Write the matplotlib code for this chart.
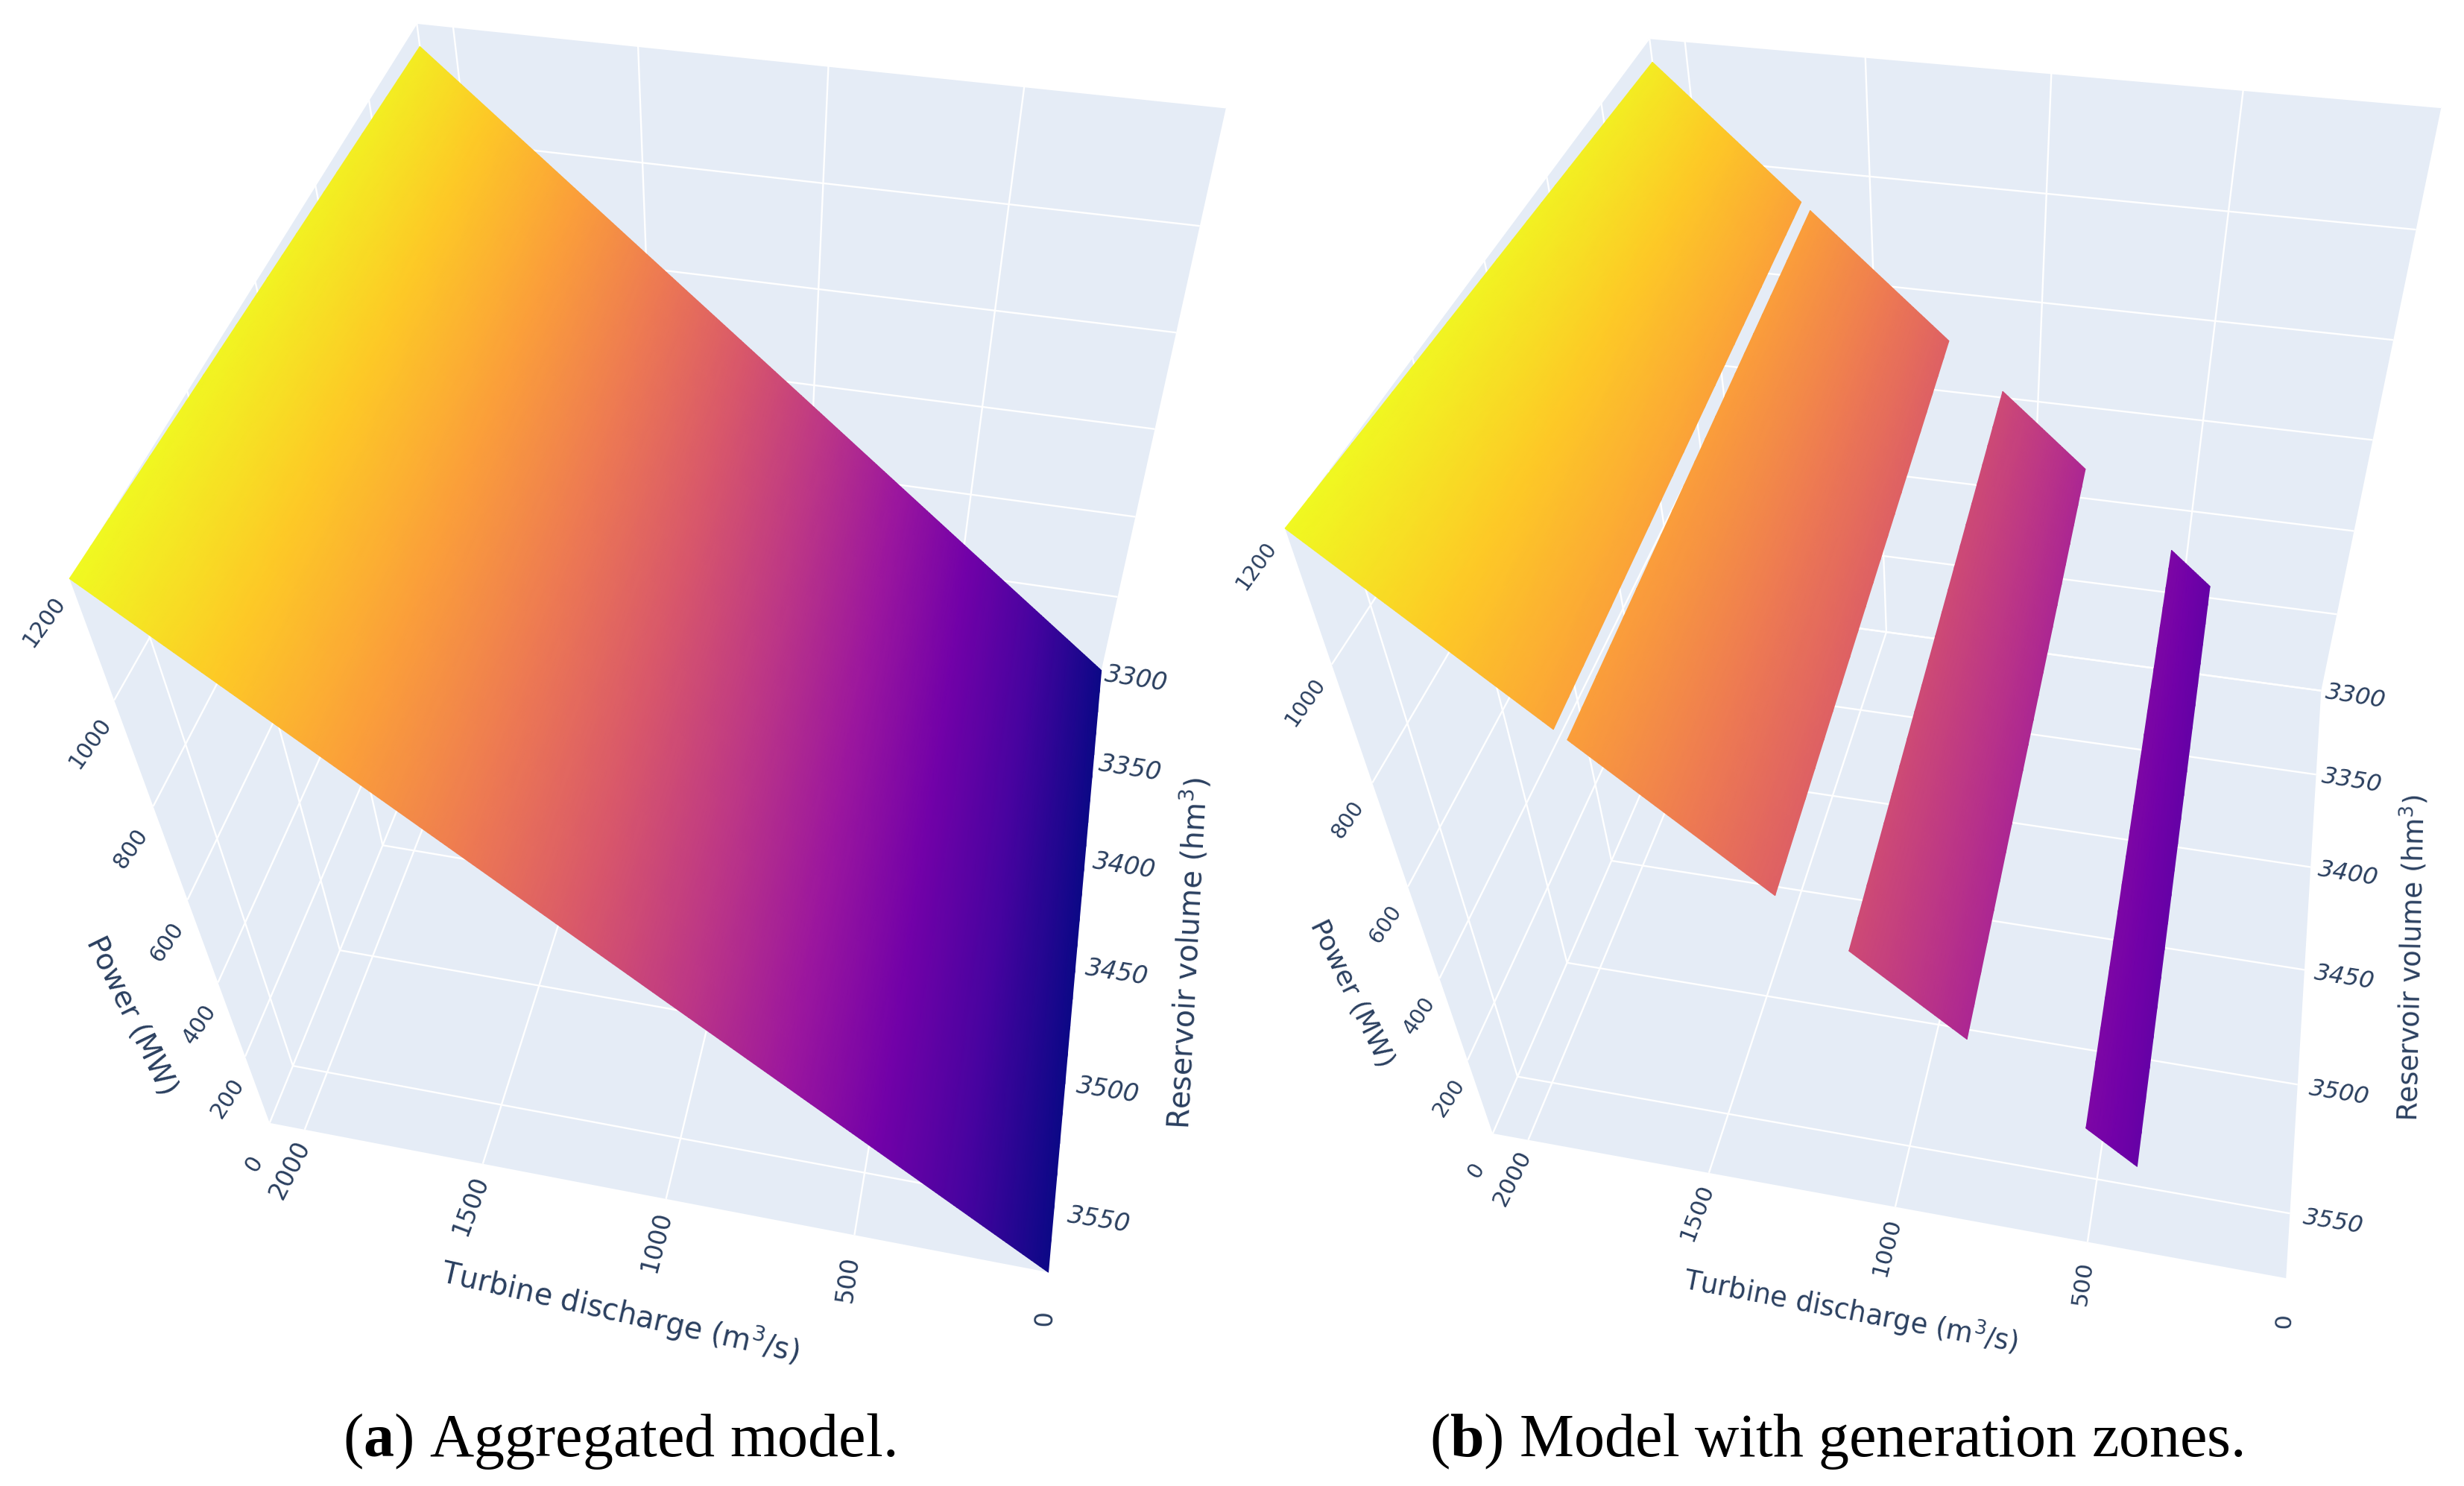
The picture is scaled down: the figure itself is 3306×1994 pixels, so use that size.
import numpy as np
import matplotlib
matplotlib.use("Agg")
import matplotlib.pyplot as plt
from matplotlib.colors import LinearSegmentedColormap

plt.rcParams['mathtext.fontset'] = 'custom'
plt.rcParams['mathtext.rm'] = 'Liberation Serif'
plt.rcParams['mathtext.bf'] = 'Liberation Serif:bold'
plt.rcParams['mathtext.default'] = 'regular'

# ---- data ----
Q_MAX, V_MIN, V_MAX, P_MAX = 2100, 3300, 3573, 1200
q_ticks = [2000, 1500, 1000, 500, 0]
v_ticks = [3300, 3350, 3400, 3450, 3500, 3550]
p_ticks = [1200, 1000, 800, 600, 400, 200, 0]
q_nodes = [0, 500, 1000, 1500, 2100]
p_at_vmin = [0, 276, 553, 829, 1161]
p_at_vmax = [0, 286, 571, 857, 1200]
# each range: q at reservoir minimum (low, high), q at reservoir maximum (low, high)
full_range = [((0, 2100), (0, 2100))]
zone_ranges = [((1704, 2100), (1654, 2100)),
               ((1275, 1679), (1231, 1629)),
               ((843, 1109), (816, 1077)),
               ((414, 550), (403, 532))]
plasma = ["#0d0887", "#46039f", "#7201a8", "#9c179e", "#bd3786",
          "#d8576b", "#ed7953", "#fb9f3a", "#fdca26", "#f0f921"]

# ---- camera calibration: (q, v, p) -> pixel, per panel ----
calib_a = [
    (2100, 3300, 1200, 559, 31), (0, 3300, 1200, 1645, 145), (2100, 3573, 1200, 94, 779),
    (2100, 3573, 0, 362, 1506), (0, 3573, 0, 1407, 1706), (0, 3300, 0, 1478, 899),
    (2000, 3573, 0, 408, 1517), (1500, 3573, 0, 647, 1562), (1000, 3573, 0, 893, 1610), (500, 3573, 0, 1147, 1658),
    (2000, 3300, 1200, 608, 35), (1500, 3300, 1200, 857, 62), (1000, 3300, 1200, 1111, 88), (500, 3300, 1200, 1374, 117),
    (0, 3300, 1000, 1611, 303), (0, 3300, 800, 1578, 445), (0, 3300, 600, 1550, 576), (0, 3300, 400, 1523, 693), (0, 3300, 200, 1498, 802),
    (2100, 3550, 0, 394, 1431), (2100, 3500, 0, 457, 1277), (2100, 3450, 0, 513, 1134),
    (2100, 3573, 1000, 152, 939), (2100, 3573, 800, 204, 1082), (2100, 3573, 600, 252, 1206), (2100, 3573, 400, 292, 1317), (2100, 3573, 200, 330, 1415),
]
calib_b = [
    (2100, 3300, 1200, 2213, 52), (0, 3300, 1200, 3275, 145), (2100, 3573, 1200, 1724, 713),
    (2100, 3573, 0, 2003, 1521), (0, 3573, 0, 3068, 1715), (0, 3300, 0, 3115, 926),
    (2000, 3573, 0, 2050, 1529), (1500, 3573, 0, 2293, 1575), (1000, 3573, 0, 2544, 1620), (500, 3573, 0, 2802, 1668),
    (2000, 3300, 1200, 2260, 54), (1500, 3300, 1200, 2503, 77), (1000, 3300, 1200, 2752, 99), (500, 3300, 1200, 3010, 121),
    (0, 3300, 1000, 3243, 307), (0, 3300, 800, 3212, 456), (0, 3300, 600, 3184, 590), (0, 3300, 400, 3159, 712), (0, 3300, 200, 3135, 825),
    (0, 3350, 0, 3107, 1039), (0, 3400, 0, 3099, 1164), (0, 3450, 0, 3090, 1301), (0, 3500, 0, 3081, 1455), (0, 3550, 0, 3073, 1628),
    (2100, 3550, 0, 2037, 1446), (2100, 3500, 0, 2103, 1293), (2100, 3450, 0, 2162, 1155),
    (2100, 3573, 1000, 1786, 890), (2100, 3573, 800, 1840, 1048), (2100, 3573, 600, 1889, 1188), (2100, 3573, 400, 1932, 1311), (2100, 3573, 200, 1969, 1422),
]


def norm(q, v, p):
    return q / Q_MAX, (v - V_MIN) / (V_MAX - V_MIN), p / P_MAX


def fit_camera(points):
    rows = []
    for q, v, p, x, y in points:
        a, b, c = norm(q, v, p)
        x, y = x / 1000, y / 1000
        rows.append([a, b, c, 1, 0, 0, 0, 0, -x * a, -x * b, -x * c, -x])
        rows.append([0, 0, 0, 0, a, b, c, 1, -y * a, -y * b, -y * c, -y])
    return np.linalg.svd(np.array(rows))[2][-1].reshape(3, 4)


def project(cam, q, v, p):
    a, b, c = norm(np.asarray(q, float), np.asarray(v, float), np.asarray(p, float))
    h = np.stack([a, b, c, np.ones_like(a + b + c)], axis=-1) @ cam.T
    return 1000 * h[..., 0] / h[..., 2], 1000 * h[..., 1] / h[..., 2]


fig = plt.figure(figsize=(33.06, 19.94), dpi=100, facecolor='white')
ax = fig.add_axes([0, 0, 1, 1])
ax.set_xlim(0, 3306)
ax.set_ylim(1994, 0)
ax.axis('off')
cmap = LinearSegmentedColormap.from_list('plotly_plasma', plasma, N=512)
WALL = '#E5ECF6'
GRID = 'white'
INK = '#2a3f5f'


def segment(cam, a, b):
    x, y = project(cam, *np.array([a, b]).T)
    ax.plot(x, y, color=GRID, lw=1.7, solid_capstyle='butt', zorder=2)


def wall(cam, corners):
    x, y = project(cam, *np.array(corners, float).T)
    ax.fill(x, y, color=WALL, lw=0, zorder=1)


def surface(cam, at_vmin, at_vmax):
    # fine rendering mesh over the read surface, so the colours stay smooth
    n = max(8, int((at_vmin[1] - at_vmin[0]) / 8))
    s = np.linspace(0, 1, n)
    t = np.linspace(0, 1, 24)
    q_low = at_vmin[0] + s * (at_vmin[1] - at_vmin[0])
    q_high = at_vmax[0] + s * (at_vmax[1] - at_vmax[0])
    Q = np.outer(1 - t, q_low) + np.outer(t, q_high)
    T = np.outer(t, np.ones(n))
    P = (1 - T) * np.interp(Q, q_nodes, p_at_vmin) + T * np.interp(Q, q_nodes, p_at_vmax)
    V = V_MIN + T * (V_MAX - V_MIN)
    X, Y = project(cam, Q, V, P)
    ax.pcolormesh(X, Y, P, cmap=cmap, vmin=0, vmax=P_MAX, shading='gouraud', zorder=3)


def lerp(a, b, f):
    return a + (b - a) * f


def panel(points, ranges, off, titles, caption):
    cam = fit_camera(points)
    wall(cam, [(0, V_MIN, 0), (Q_MAX, V_MIN, 0), (Q_MAX, V_MIN, P_MAX), (0, V_MIN, P_MAX)])
    wall(cam, [(Q_MAX, V_MIN, 0), (Q_MAX, V_MAX, 0), (Q_MAX, V_MAX, P_MAX), (Q_MAX, V_MIN, P_MAX)])
    wall(cam, [(0, V_MIN, 0), (Q_MAX, V_MIN, 0), (Q_MAX, V_MAX, 0), (0, V_MAX, 0)])
    for q in q_ticks[:-1]:
        segment(cam, (q, V_MIN, 0), (q, V_MIN, P_MAX))
        segment(cam, (q, V_MIN, 0), (q, V_MAX, 0))
    for p in p_ticks:
        segment(cam, (0, V_MIN, p), (Q_MAX, V_MIN, p))
        segment(cam, (Q_MAX, V_MIN, p), (Q_MAX, V_MAX, p))
    for v in v_ticks:
        segment(cam, (0, v, 0), (Q_MAX, v, 0))
        segment(cam, (Q_MAX, v, 0), (Q_MAX, v, P_MAX))
    for at_vmin, at_vmax in ranges:
        surface(cam, at_vmin, at_vmax)

    for i, p in enumerate(p_ticks):
        f = i / (len(p_ticks) - 1)
        x, y = project(cam, Q_MAX, V_MAX, p)
        ax.text(x + lerp(off['p'][0], off['p'][2], f), y + lerp(off['p'][1], off['p'][3], f), str(p),
                rotation=lerp(54, 57, f), rotation_mode='anchor', ha='center', va='center',
                fontsize=off['size'] - 2, color=INK, zorder=5)
    for i, q in enumerate(q_ticks):
        f = i / (len(q_ticks) - 1)
        x, y = project(cam, q, V_MAX, 0)
        ax.text(x + lerp(off['q'][0], off['q'][2], f), y + lerp(off['q'][1], off['q'][3], f), str(q),
                rotation=lerp(63, 88, f), rotation_mode='anchor', ha='center', va='center',
                fontsize=off['size'], color=INK, zorder=5)
    for i, v in enumerate(v_ticks):
        f = i / (len(v_ticks) - 1)
        x, y = project(cam, 0, v, 0)
        ax.text(x + lerp(off['v'][0], off['v'][2], f), y + lerp(off['v'][1], off['v'][3], f), str(v),
                rotation=-9, rotation_mode='anchor', ha='center', va='center', style='oblique',
                fontsize=off['size'] + 0.5, color=INK, zorder=5)
    for s, x, y, rot, size in titles:
        ax.text(x, y, s, rotation=rot, rotation_mode='anchor', ha='center', va='center',
                fontsize=size, color=INK, zorder=5)
    ax.text(caption[1], 1954, caption[0], ha='center', va='baseline', family='Liberation Serif',
            fontsize=caption[2], color='black', zorder=5)


panel(calib_a, full_range,
      {'p': (-34, 58, -21, 55), 'q': (-20, 54, -5, 61), 'v': (47, 12, 60, 16), 'size': 23.5},
      [('Turbine discharge (m$^3$/s)', 832, 1761, -12.7, 28.5),
       ('Power (MW)', 176, 1363, -64, 28),
       ('Reservoir volume (hm$^3$)', 1594, 1279, 87, 28.5)],
      (r'($\mathbf{a}$) Aggregated model.', 831, 59))
panel(calib_b, zone_ranges,
      {'p': (-38, 50, -22, 50), 'q': (-21, 51, -2, 57), 'v': (46, 8, 58, 12), 'size': 22.5},
      [('Turbine discharge (m$^3$/s)', 2483, 1760, -10.8, 26.5),
       ('Power (MW)', 1814, 1333, -64, 26),
       ('Reservoir volume (hm$^3$)', 3236, 1285, 88.7, 26.5)],
      (r'($\mathbf{b}$) Model with generation zones.', 2464, 59))

fig.savefig('out.png', dpi=100, facecolor='white')
